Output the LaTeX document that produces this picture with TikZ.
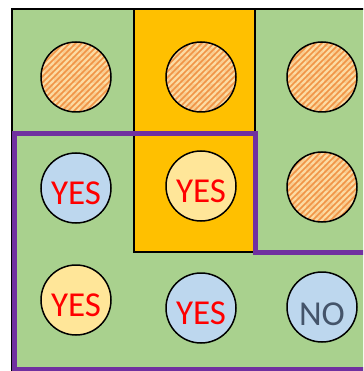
\documentclass[tikz,border=0pt]{standalone}
\usepackage{fontspec}
\setmainfont{Carlito}
\usetikzlibrary{patterns}

\definecolor{cellgreen}{HTML}{A9D18E}
\definecolor{cellorange}{HTML}{FFC000}
\definecolor{dotblue}{HTML}{BDD7EE}
\definecolor{dotyellow}{HTML}{FFE699}
\definecolor{hatchlight}{HTML}{FCDCA4}
\definecolor{hatchdark}{HTML}{F19446}
\definecolor{zonepurple}{HTML}{7030A0}
\definecolor{answergrey}{HTML}{44546A}

% wide diagonal stripes and a coarse checker for the orange dots
\pgfdeclarepatternformonly{widestripes}{\pgfqpoint{-1pt}{-1pt}}{\pgfqpoint{7pt}{7pt}}{\pgfqpoint{6pt}{6pt}}{
    \pgfsetlinewidth{1.6pt}
    \pgfpathmoveto{\pgfqpoint{0pt}{0pt}}
    \pgfpathlineto{\pgfqpoint{6.1pt}{6.1pt}}
    \pgfusepath{stroke}}
\pgfdeclarepatternformonly{bigchecker}{\pgfpointorigin}{\pgfqpoint{18pt}{18pt}}{\pgfqpoint{18pt}{18pt}}{
    \pgfpathrectangle{\pgfpointorigin}{\pgfqpoint{9pt}{9pt}}
    \pgfpathrectangle{\pgfqpoint{9pt}{9pt}}{\pgfqpoint{9pt}{9pt}}
    \pgfusepath{fill}}

\begin{document}
\begin{tikzpicture}[x=1pt, y=-1pt, line join=miter]

    % Styles
    \tikzstyle{dot} = [circle, draw=black, line width=1.5pt, minimum size=70pt, inner sep=0pt, text height=33pt, text depth=0pt, font=\fontsize{35}{35}\selectfont]
    \tikzstyle{hatched} = [dot, preaction={fill=hatchlight}, preaction={pattern=widestripes, pattern color=hatchdark}, preaction={pattern=bigchecker, pattern color=hatchdark, fill opacity=0.2}]
    \tikzstyle{yesblue} = [dot, fill=dotblue, text=red]
    \tikzstyle{yesyellow} = [dot, fill=dotyellow, text=red]
    \tikzstyle{noblue} = [dot, fill=dotblue, text=answergrey, text height=36pt]

    \useasboundingbox (0,0) rectangle (363,371);
    \clip (0,0) rectangle (363,371);

    % Board
    \draw[line width=2pt, fill=cellgreen] (12,9) rectangle (380,380);
    \draw[line width=2pt, fill=cellorange] (134,9) rectangle (255,252);

    % Region border
    \draw[zonepurple, line width=5pt] (370,369) -- (14,369) -- (14,134) -- (255,134) -- (255,252) -- (370,252);

    % Top row
    \foreach \i/\x in {1/76,2/201,3/322}
        \node[hatched] (T\i) at (\x,77) {};

    % Middle row
    \node[yesblue] (M1) at (76,188) {YES};
    \node[yesyellow] (M2) at (201,186) {YES};
    \node[hatched] (M3) at (322,187) {};

    % Bottom row
    \node[yesyellow] (B1) at (76,300) {YES};
    \node[yesblue] (B2) at (201,308) {YES};
    \node[noblue] (B3) at (322,307) {NO};

\end{tikzpicture}
\end{document}
